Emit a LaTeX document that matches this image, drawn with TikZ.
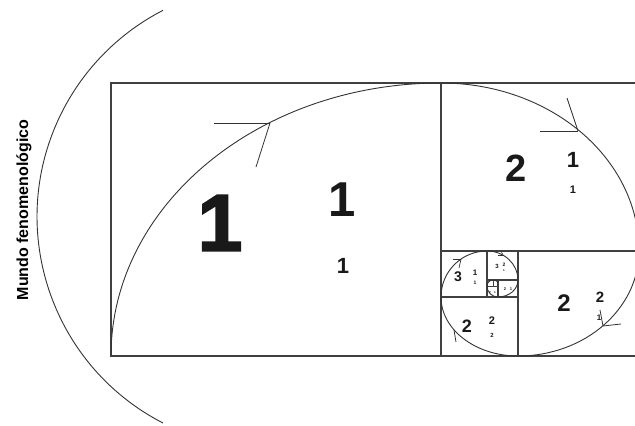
\documentclass[tikz,border=0pt]{standalone}
\usepackage{fontspec}
\setmainfont{Liberation Sans}
\newfontfamily\heavyfont{Liberation Sans}[BoldFeatures={FakeBold=2.5}]
\usetikzlibrary{positioning,calc}
\tikzset{
  frameline/.style={draw=black!75,line width=1.1pt},
  spiralline/.style={draw=black!80,line width=0.9pt},
  barbline/.style={draw=black!80,line width=0.8pt}
}

\begin{document}
\begin{tikzpicture}[
  x=1pt,
  y=-1pt,
  fibnum/.style={
    inner sep=0pt,
    outer sep=0pt,
    anchor=center,
    text=black!90,
    font=\bfseries\fontsize{#1}{#1}\selectfont
  },
  worldlabel/.style={
    inner sep=0pt,
    rotate=90,
    font=\bfseries\fontsize{16}{16}\selectfont
  }
]

  \useasboundingbox (0,0) rectangle (635,426);
  \clip (0,0) rectangle (635,426);

  % --------------------------------------------------------------
  % Corners of the nested rectangles.
  % --------------------------------------------------------------
  \coordinate (rTL) at (111,83);
  \coordinate (rBL) at (111,356);
  \coordinate (rTM) at (441,83);
  \coordinate (rBM) at (441,356);
  \coordinate (rBR) at (639,356);
  \coordinate (rMM) at (441,251);
  \coordinate (rMR) at (639,251);
  \coordinate (qT)  at (518,251);
  \coordinate (qB)  at (518,356);
  \coordinate (qL)  at (441,297);
  \coordinate (qR)  at (518,297);
  \coordinate (sT)  at (487,251);
  \coordinate (sB)  at (487,297);
  \coordinate (tL)  at (487,280);
  \coordinate (tR)  at (518,280);
  \coordinate (uT)  at (498,280);
  \coordinate (uB)  at (498,297);
  \coordinate (vL)  at (487,286);
  \coordinate (vR)  at (498,286);
  \coordinate (wT)  at (493,280);
  \coordinate (wB)  at (493,286);

  \draw[frameline] (rTL) rectangle (rBR);
  \draw[frameline] (rTM) -- (rBM);
  \draw[frameline] (rMM) -- (rMR);
  \draw[frameline] (qT) -- (qB);
  \draw[frameline] (qL) -- (qR);
  \draw[frameline] (sT) -- (sB);
  \draw[frameline] (tL) -- (tR);
  \draw[frameline] (uT) -- (uB);
  \draw[frameline,line width=.7pt] (vL) -- (vR);
  \draw[frameline,line width=.6pt] (wT) -- (wB);


  % --------------------------------------------------------------
  % The spiral, one quarter arc per square.
  % --------------------------------------------------------------
  \draw[spiralline] (rBL)
    arc[start angle=180,end angle=270,x radius=330,y radius=273]
    arc[start angle=270,end angle=360,x radius=198,y radius=168]
    arc[start angle=0,end angle=90,x radius=121,y radius=105]
    arc[start angle=90,end angle=180,x radius=77,y radius=59]
    arc[start angle=180,end angle=270,x radius=46,y radius=46]
    arc[start angle=270,end angle=360,x radius=31,y radius=29]
    arc[start angle=0,end angle=90,x radius=20,y radius=17]
    arc[start angle=90,end angle=180,x radius=11,y radius=11]
    arc[start angle=180,end angle=270,x radius=6,y radius=6]
    arc[start angle=270,end angle=360,x radius=5,y radius=3];

  % Open arrow heads along the spiral
  \coordinate (tipA) at (270,123);
  \coordinate (tipB) at (578,131);
  \coordinate (tipC) at (603,326);
  \coordinate (tipD) at (454,330);
  \coordinate (tipE) at (461,259);
  \coordinate (tipF) at (503,255);

  \draw[barbline] (tipA) -- ++(-56,0);
  \draw[barbline] (tipA) -- ++(-14,44);
  \draw[barbline] (tipB) -- ++(-38,0);
  \draw[barbline] (tipB) -- ++(-11,-33);
  \draw[barbline] (tipC) -- ++(-3,-16);
  \draw[barbline] (tipC) -- ++(18,-2);
  \draw[barbline] (tipD) -- ++(2,12);
  \draw[barbline,line width=.7pt] (tipE) -- ++(-8,0);
  \draw[barbline,line width=.7pt] (tipE) -- ++(-2,9);
  \draw[barbline,line width=.6pt] (tipF) -- ++(-5,0);
  \draw[barbline,line width=.6pt] (tipF) -- ++(-2,-4);


  % --------------------------------------------------------------
  % The world arc on the left and its label.
  % --------------------------------------------------------------
  \coordinate (worldLow) at (163,423);
  \draw[spiralline] (worldLow)
    arc[start angle=117.2,end angle=242.8,radius=232];
  \node[worldlabel] (world) at (24,210) {Mundo fenomenológico};


  % --------------------------------------------------------------
  % Numbers in the squares, largest first.
  % --------------------------------------------------------------
  \node[fibnum=80,font=\heavyfont\bfseries\fontsize{80}{80}\selectfont]
    (oneBig) at (220,223) {1};
  \node[fibnum=49] (oneMid) at (342,200) {1};
  \node[fibnum=22] (oneLow) at (343,266) {1};

  \node[fibnum=38] (twoBig) at (516,168) {2};
  \node[fibnum=22] (twoMid) at (573,160) {1};
  \node[fibnum=11] (twoLow) at (573,190) {1};

  \node[fibnum=24] (thrBig) at (564,303) {2};
  \node[fibnum=15] (thrMid) at (600,297) {2};
  \node[fibnum=8]  (thrLow) at (599,318) {1};

  \node[fibnum=18] (fouBig) at (467,326) {2};
  \node[fibnum=11] (fouMid) at (492,321) {2};
  \node[fibnum=6]  (fouLow) at (492,335) {2};

  \node[fibnum=14] (fivBig) at (458,277) {3};
  \node[fibnum=8]  (fivMid) at (475,273) {1};
  \node[fibnum=5]  (fivLow) at (475,283) {1};

  \node[fibnum=6]  (sixBig) at (497,266) {3};
  \node[fibnum=5]  (sixMid) at (504,265) {2};
  \node[fibnum=3]  (sixLow) at (504,270) {1};

  \node[fibnum=4]  (sevBig) at (505,289) {2};
  \node[fibnum=4]  (sevMid) at (511,289) {1};

  \node[fibnum=3]  (eigBig) at (490,292) {2};
  \node[fibnum=3]  (eigMid) at (495,292) {1};

\end{tikzpicture}
\end{document}
